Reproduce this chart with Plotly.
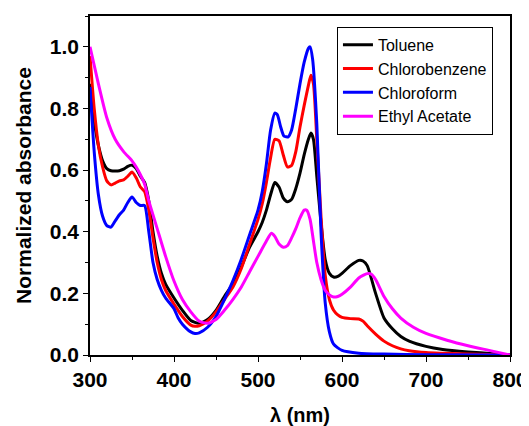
import plotly.graph_objects as go

tol_x = [300,305,310,315,320,325,330,335,340,345,350,355,360,365,370,375,380,385,390,400,410,420,430,440,450,460,470,480,490,500,505,510,515,520,525,530,535,540,545,550,555,560,563,566,570,575,580,585,590,595,600,610,620,625,630,640,650,660,670,680,700,720,750,780,800]
tol_y = [0.88,0.76,0.68,0.63,0.605,0.598,0.597,0.598,0.603,0.612,0.616,0.605,0.58,0.56,0.50,0.40,0.32,0.265,0.23,0.185,0.145,0.112,0.103,0.115,0.145,0.19,0.23,0.285,0.35,0.40,0.43,0.47,0.52,0.56,0.545,0.51,0.497,0.505,0.54,0.59,0.65,0.70,0.72,0.70,0.58,0.43,0.31,0.265,0.253,0.255,0.265,0.29,0.307,0.305,0.29,0.20,0.12,0.085,0.06,0.045,0.028,0.018,0.01,0.004,0.0]

clb_x = [300,305,310,315,320,325,330,335,340,345,350,355,360,365,370,375,380,385,390,400,410,420,425,430,440,450,460,470,480,490,500,505,510,515,520,525,530,535,540,545,550,555,560,563,566,570,575,580,585,590,595,600,610,620,625,630,640,650,660,670,680,700,750,800]
clb_y = [0.97,0.80,0.68,0.61,0.565,0.552,0.558,0.565,0.568,0.58,0.594,0.575,0.545,0.53,0.47,0.38,0.30,0.245,0.21,0.165,0.125,0.097,0.093,0.095,0.11,0.14,0.18,0.22,0.28,0.36,0.44,0.49,0.56,0.64,0.70,0.695,0.65,0.61,0.615,0.66,0.74,0.81,0.875,0.908,0.88,0.70,0.45,0.26,0.18,0.145,0.13,0.122,0.118,0.117,0.11,0.095,0.068,0.045,0.03,0.02,0.014,0.008,0.003,0.0]

chf_x = [300,305,310,315,320,325,330,335,340,345,350,355,360,365,370,375,380,385,390,400,405,410,420,425,430,440,450,460,470,480,490,500,505,510,515,520,523,527,531,536,540,545,550,555,560,562,565,570,575,580,585,590,600,620,650,700,800]
chf_y = [0.87,0.66,0.52,0.45,0.42,0.415,0.435,0.455,0.47,0.495,0.513,0.495,0.485,0.485,0.40,0.30,0.245,0.21,0.185,0.15,0.12,0.10,0.075,0.07,0.072,0.09,0.125,0.18,0.24,0.31,0.39,0.47,0.53,0.62,0.73,0.785,0.78,0.74,0.71,0.708,0.73,0.80,0.88,0.95,0.995,1.0,0.96,0.75,0.40,0.17,0.075,0.035,0.015,0.006,0.003,0.001,0.0]

eta_x = [300,310,320,330,340,350,355,360,365,370,380,390,400,410,420,430,440,450,460,470,480,490,500,510,516,520,525,530,535,540,545,550,555,558,562,566,570,575,580,585,590,595,600,610,620,630,635,640,650,660,670,685,700,725,750,775,800]
eta_y = [1.0,0.88,0.77,0.70,0.66,0.63,0.61,0.585,0.555,0.50,0.41,0.32,0.24,0.18,0.14,0.11,0.103,0.115,0.145,0.18,0.22,0.27,0.32,0.37,0.395,0.385,0.36,0.35,0.355,0.38,0.41,0.445,0.47,0.47,0.44,0.37,0.30,0.245,0.21,0.195,0.188,0.19,0.197,0.22,0.25,0.264,0.262,0.245,0.19,0.15,0.12,0.09,0.07,0.048,0.03,0.015,0.0]

names = ["Toluene", "Chlorobenzene", "Chloroform", "Ethyl Acetate"]
colors = ["#000000", "#ff0000", "#0000ff", "#ff00ff"]
series = [(tol_x, tol_y), (clb_x, clb_y), (chf_x, chf_y), (eta_x, eta_y)]

fig = go.Figure()
for (xs, ys), n, c in zip(series, names, colors):
    fig.add_trace(go.Scatter(x=xs, y=ys, name=n, mode="lines",
                             line=dict(color=c, width=3, shape="spline", smoothing=0.6)))

font_fam = "Arial, Liberation Sans, sans-serif"
# page body has an 8px default margin, so the figure is 8px smaller than the window
fig.update_layout(
    width=521, height=418,
    margin=dict(l=82, r=19, t=8, b=71),
    paper_bgcolor="white", plot_bgcolor="white",
    font=dict(family=font_fam, color="black"),
    legend=dict(x=0.588, y=0.968, xanchor="left", yanchor="top",
                bordercolor="black", borderwidth=1, bgcolor="white",
                font=dict(size=16, family=font_fam), tracegroupgap=0,
                itemwidth=30),
)
fig.update_xaxes(
    range=[300, 800], dtick=100, tick0=300, automargin=False,
    showline=True, mirror=True, linecolor="black", linewidth=1.5,
    ticks="outside", ticklen=5, tickwidth=1.2, tickcolor="black",
    minor=dict(dtick=50, ticks="outside", ticklen=3, tickcolor="black"),
    showgrid=False, zeroline=False,
    tickfont=dict(size=21, family=font_fam, weight="bold"),
    title=dict(text="<b>λ (nm)</b>", font=dict(size=20, family=font_fam), standoff=28),
)
fig.update_yaxes(
    range=[0, 1.1], dtick=0.2, tick0=0, tickformat=".1f", automargin=False,
    showline=True, mirror=True, linecolor="black", linewidth=1.5,
    ticks="outside", ticklen=5, tickwidth=1.2, tickcolor="black",
    minor=dict(dtick=0.1, ticks="outside", ticklen=3, tickcolor="black"),
    showgrid=False, zeroline=False,
    tickfont=dict(size=21, family=font_fam, weight="bold"),
    title=dict(text="<b>Normalized absorbance</b>", font=dict(size=21, family=font_fam), standoff=12),
)
fig.write_html("out.html")
